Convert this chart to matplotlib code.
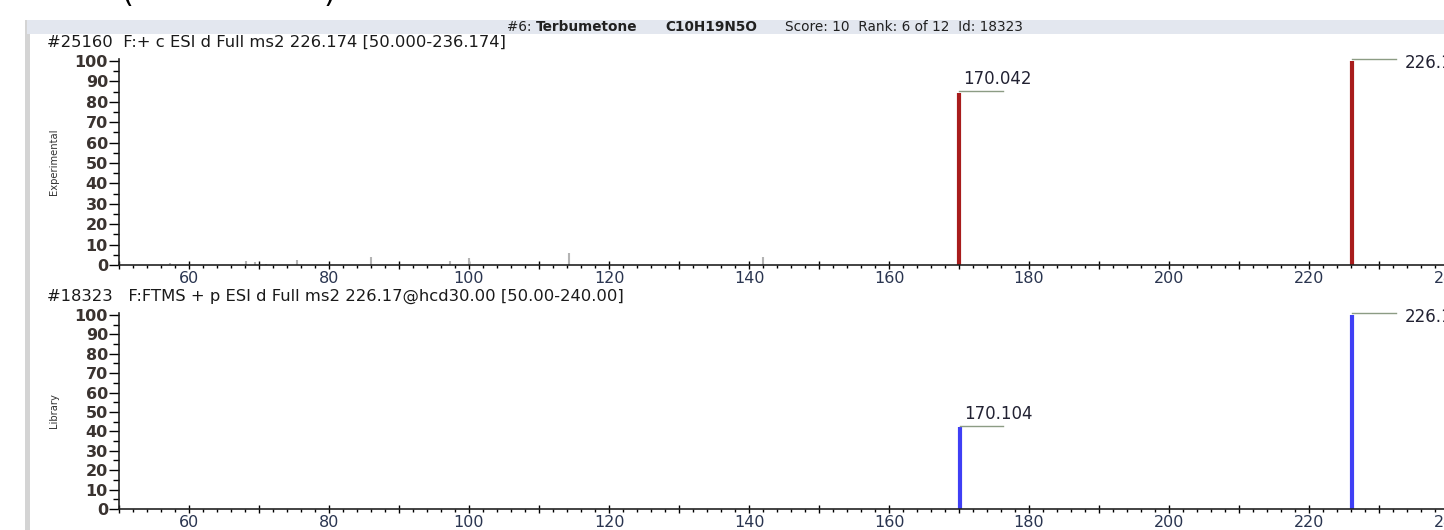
import matplotlib
matplotlib.use("Agg")
import matplotlib.pyplot as plt
import matplotlib.patches as patches
from matplotlib.ticker import MultipleLocator, FuncFormatter

# spectrum data
exp_mz = [57.3, 68.1, 69.4, 71.0, 75.4, 86.0, 96.3, 97.3, 100.0, 114.3, 142.0, 170.042, 226.174]
exp_int = [1.0, 2.0, 1.5, 0.5, 2.5, 4.0, 0.5, 2.0, 3.5, 6.0, 4.0, 84.5, 100.0]
exp_labels = ["", "", "", "", "", "", "", "", "", "", "", "170.042", "226.174"]

lib_mz = [170.104, 226.17]
lib_int = [42.0, 100.0]
lib_labels = ["170.104", "226.170"]

exp_header = "#25160  F:+ c ESI d Full ms2 226.174 [50.000-236.174]"
lib_header = "#18323   F:FTMS + p ESI d Full ms2 226.17@hcd30.00 [50.00-240.00]"

W, H = 1444, 530
fig = plt.figure(figsize=(W / 100, H / 100), dpi=100)
fig.patch.set_facecolor("white")


def px(x, y):
    # pixel (from top-left) to figure fraction
    return x / W, 1 - y / H


# window frame: gray left border and title bar
fig.add_artist(patches.Rectangle(px(25, 530), 5 / W, 510 / H, transform=fig.transFigure,
                                 facecolor="#d4d4d4", edgecolor="none"))
fig.add_artist(patches.Rectangle(px(27, 34), (W - 27) / W, 14 / H, transform=fig.transFigure,
                                 facecolor="#e3e7ef", edgecolor="none"))

# title bar text
tfont = dict(fontsize=9.8, va="center", family="DejaVu Sans", color="#202020")
fig.text(*px(507, 27), "#6:", **tfont)
fig.text(*px(536, 27), "Terbumetone", fontweight="bold", **tfont)
fig.text(*px(665, 27), "C10H19N5O", fontweight="bold", **tfont)
fig.text(*px(785, 27), "Score: 10  Rank: 6 of 12  Id: 18323", **tfont)

# cut-off caption brackets at the very top
fig.text(*px(121, 8), "(", fontsize=22, va="bottom", color="black")
fig.text(*px(324, 8), ")", fontsize=22, va="bottom", color="black")

hfont = dict(fontsize=11.8, va="center", family="DejaVu Sans", color="#1a1a1a")
fig.text(*px(47, 42), exp_header, **hfont)
fig.text(*px(47, 296), lib_header, **hfont)

x0 = 119
xmin, xmax = 50, 243
ax_w = (xmax - xmin) * 7 / W


def make_axes(y_bottom, y_top, ylabel):
    left, bottom = px(x0, y_bottom)
    ax = fig.add_axes([left, bottom, ax_w, (y_bottom - y_top) / H])
    ax.set_xlim(xmin, xmax)
    ax.set_ylim(0, 101)
    for s in ["top", "right"]:
        ax.spines[s].set_visible(False)
    for s in ["left", "bottom"]:
        ax.spines[s].set_linewidth(1.2)
        ax.spines[s].set_color("#222222")
    ax.yaxis.set_major_locator(MultipleLocator(10))
    ax.yaxis.set_minor_locator(MultipleLocator(5))
    ax.xaxis.set_major_locator(MultipleLocator(10))
    ax.xaxis.set_minor_locator(MultipleLocator(2))
    ax.xaxis.set_major_formatter(FuncFormatter(lambda v, p: "%d" % v if v % 20 == 0 else ""))
    ax.tick_params(axis="y", which="major", length=7, width=1, direction="out", pad=1,
                   labelsize=11.5, labelcolor="#3a3330")
    ax.tick_params(axis="y", which="minor", length=4, width=1, direction="out")
    ax.tick_params(axis="x", which="major", length=6, width=1, direction="inout", pad=1,
                   labelsize=11.5, labelcolor="#2a3550")
    ax.tick_params(axis="x", which="minor", length=2, width=1, direction="out")
    for lab in ax.get_yticklabels():
        lab.set_fontweight("bold")
        lab.set_family("DejaVu Sans")
    for lab in ax.get_xticklabels():
        lab.set_family("DejaVu Sans")
    ax.set_ylabel(ylabel, family="DejaVu Sans", fontstretch="condensed", fontsize=8,
                  color="#333333", labelpad=11)
    ax.patch.set_alpha(0)
    return ax


def annotate(ax, mz, inten, label, above):
    ax.plot([mz, mz + 6.2], [inten + 0.8, inten + 0.8], color="#8c9c84", lw=1, clip_on=False)
    if not label:
        return
    if above:
        ax.text(mz + 0.6, inten + 2.5, label, fontsize=12, family="DejaVu Sans",
                color="#222233", va="bottom", clip_on=False)
    else:
        ax.text(mz + 7.5, inten - 1, label, fontsize=12, family="DejaVu Sans",
                color="#222233", va="center", clip_on=False)


ax1 = make_axes(265, 59, "Experimental")
for mz, inten, lab in zip(exp_mz, exp_int, exp_labels):
    if lab:
        ax1.vlines(mz, 0, inten, color="#a81c1c", lw=3)
        annotate(ax1, mz, inten, lab, inten < 95)
    else:
        ax1.vlines(mz, 0, inten, color="#b4b4b4", lw=1.5)

ax2 = make_axes(509, 313, "Library")
for mz, inten, lab in zip(lib_mz, lib_int, lib_labels):
    ax2.vlines(mz, 0, inten, color="#3f3ff5", lw=3)
    annotate(ax2, mz, inten, lab, inten < 95)

fig.savefig("out.png", dpi=100)
